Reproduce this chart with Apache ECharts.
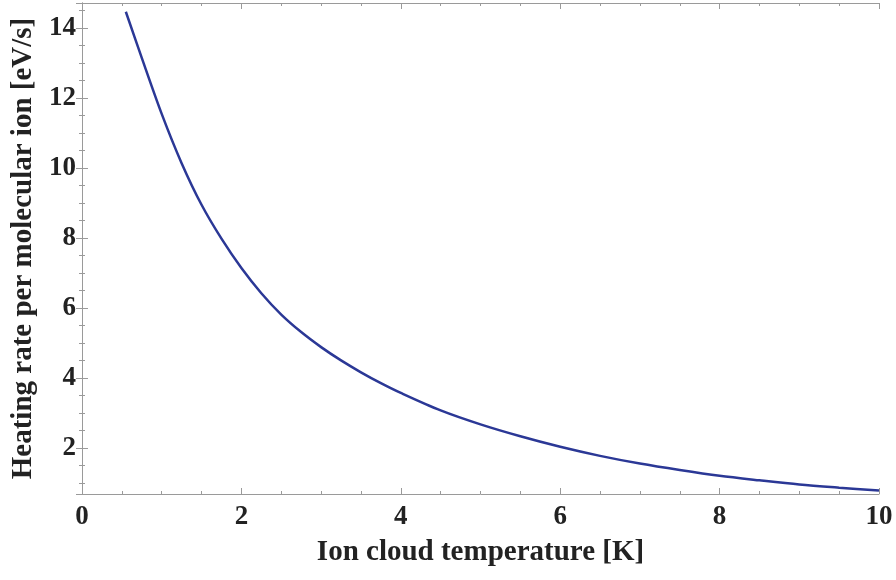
<!DOCTYPE html>
<html>
<head>
<meta charset="utf-8">
<script src="https://cdn.jsdelivr.net/npm/echarts@6/dist/echarts.min.js"></script>
<style>
  html, body { margin: 0; padding: 0; background: #fff; }
  #chart { width: 896px; height: 580px; }
</style>
</head>
<body>
<div id="chart"></div>
<script>
const temperature = [0.55, 0.75, 1.0, 1.25, 1.5, 1.75, 2.0, 2.25, 2.5, 2.75, 3.0, 3.25, 3.5, 3.75, 4.0, 4.5, 5.0, 5.5, 6.0, 6.5, 7.0, 7.5, 8.0, 8.5, 9.0, 9.5, 10];
const heatingRate = [14.47, 13.15, 11.55, 10.14, 8.95, 7.98, 7.14, 6.42, 5.81, 5.31, 4.88, 4.5, 4.16, 3.85, 3.57, 3.07, 2.67, 2.33, 2.03, 1.77, 1.55, 1.365, 1.2, 1.07, 0.95, 0.86, 0.78];
const xTicks = [0, 2, 4, 6, 8, 10];
const yTicks = [2, 4, 6, 8, 10, 12, 14];

const font = "Liberation Serif";
const axisColor = "#9a9a9a";

const chart = echarts.init(document.getElementById("chart"), null, { renderer: "canvas" });

const baseTick = {
  axisLine: { show: true, lineStyle: { color: axisColor, width: 1 } },
  axisTick: { show: true, inside: true, length: 6, lineStyle: { color: axisColor } },
  minorTick: { show: true, splitNumber: 4, length: 3, lineStyle: { color: axisColor } },
  splitLine: { show: false },
};

const option = {
  animation: false,
  backgroundColor: "#fff",
  grid: { left: 82, right: 17, top: 3, bottom: 86 },
  xAxis: [
    {
      type: "value",
      min: xTicks[0],
      max: xTicks[xTicks.length - 1],
      interval: 2,
      name: "Ion cloud temperature [K]",
      nameLocation: "middle",
      nameGap: 44,
      nameTextStyle: { fontFamily: font, fontWeight: "bold", fontSize: 29, color: "#222" },
      axisLabel: { fontFamily: font, fontWeight: "bold", fontSize: 27, color: "#222", margin: 10 },
      ...baseTick,
    },
    {
      type: "value",
      position: "top",
      min: xTicks[0],
      max: xTicks[xTicks.length - 1],
      interval: 2,
      axisLabel: { show: false },
      ...baseTick,
    },
  ],
  yAxis: [
    {
      type: "value",
      min: 0.68,
      max: 14.72,
      splitNumber: 7,
      name: "Heating rate per molecular ion [eV/s]",
      nameLocation: "middle",
      nameGap: 43,
      nameTextStyle: { fontFamily: font, fontWeight: "bold", fontSize: 29, color: "#222" },
      axisLabel: {
        fontFamily: font, fontWeight: "bold", fontSize: 27, color: "#222", margin: 6,
        showMinLabel: false, showMaxLabel: false,
        formatter: (v) => (yTicks.includes(v) ? String(v) : ""),
      },
      ...baseTick,
    },
    {
      type: "value",
      position: "right",
      min: 0.68,
      max: 14.72,
      splitNumber: 7,
      axisLabel: { show: false },
      ...baseTick,
    },
  ],
  series: [
    {
      type: "line",
      data: temperature.map((t, i) => [t, heatingRate[i]]),
      smooth: 0.3,
      showSymbol: false,
      lineStyle: { color: "#2b3896", width: 2.5 },
    },
  ],
};

chart.setOption(option);
</script>
</body>
</html>
